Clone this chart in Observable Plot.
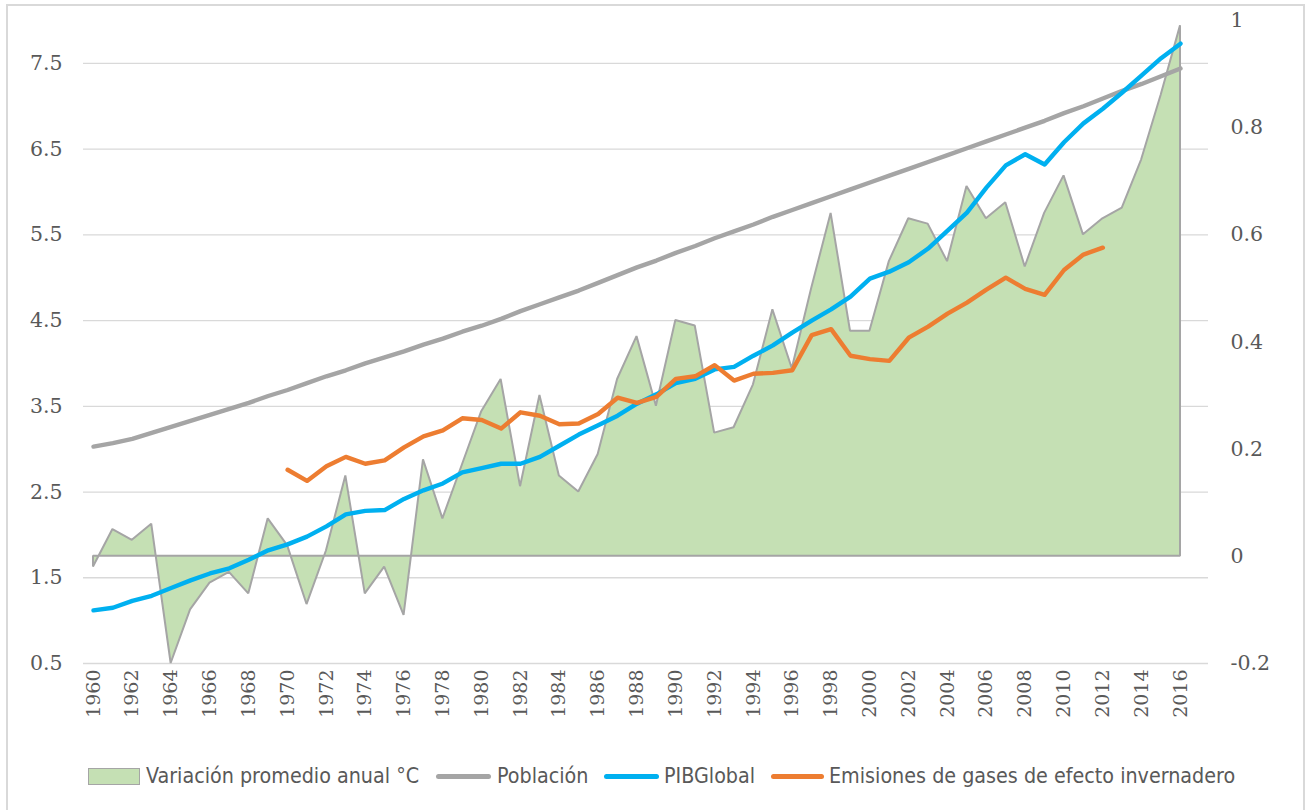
<!DOCTYPE html>
<html>
<head>
<meta charset="utf-8">
<script src="https://cdn.jsdelivr.net/npm/d3@7"></script>
<script src="https://cdn.jsdelivr.net/npm/@observablehq/plot@0.6"></script>
<style>
  html, body { margin: 0; padding: 0; background: #fff; }
  #wrap { position: relative; width: 1313px; height: 810px; overflow: hidden; }
  #frame { position: absolute; left: 6px; top: 4px; width: 1299px; height: 830px; border: 2px solid #d9d9d9; box-sizing: border-box; }
  #chart { position: absolute; left: 0; top: 0; }
  #legend { position: absolute; left: 0; top: 761px; width: 1313px; height: 30px; font-family: "DejaVu Sans Condensed", "DejaVu Sans", sans-serif; font-size: 21.3px; color: #595959; }
  .lg { position: absolute; top: 0; line-height: 30px; white-space: nowrap; }
  .sw { position: absolute; }
</style>
</head>
<body>
<div id="wrap">
  <div id="frame"></div>
  <div id="chart"></div>
  <div id="legend"></div>
</div>
<script>
// ---- data ----
const years = d3.range(1960, 2017);
const tempVariation = [ // right axis, °C
  -0.02, 0.05, 0.03, 0.06, -0.20, -0.10, -0.05, -0.03, -0.07, 0.07,
  0.02, -0.09, 0.01, 0.15, -0.07, -0.02, -0.11, 0.18, 0.07, 0.17,
  0.27, 0.33, 0.13, 0.30, 0.15, 0.12, 0.19, 0.33, 0.41, 0.28,
  0.44, 0.43, 0.23, 0.24, 0.32, 0.46, 0.35, 0.50, 0.64, 0.42,
  0.42, 0.55, 0.63, 0.62, 0.55, 0.69, 0.63, 0.66, 0.54, 0.64,
  0.71, 0.60, 0.63, 0.65, 0.74, 0.86, 0.99
];
const population = [
  3.03, 3.07, 3.12, 3.19, 3.26, 3.33, 3.40, 3.47, 3.54, 3.62,
  3.69, 3.77, 3.85, 3.92, 4.00, 4.07, 4.14, 4.22, 4.29, 4.37,
  4.44, 4.52, 4.61, 4.69, 4.77, 4.85, 4.94, 5.03, 5.12, 5.20,
  5.29, 5.37, 5.46, 5.54, 5.62, 5.71, 5.79, 5.87, 5.95, 6.03,
  6.11, 6.19, 6.27, 6.35, 6.43, 6.51, 6.59, 6.67, 6.75, 6.83,
  6.92, 7.00, 7.09, 7.18, 7.26, 7.35, 7.44
];
const pibGlobal = [
  1.12, 1.15, 1.23, 1.29, 1.38, 1.47, 1.55, 1.61, 1.71, 1.82,
  1.89, 1.98, 2.10, 2.24, 2.28, 2.29, 2.42, 2.52, 2.60, 2.73,
  2.78, 2.83, 2.83, 2.91, 3.04, 3.17, 3.28, 3.39, 3.53, 3.64,
  3.77, 3.82, 3.93, 3.96, 4.09, 4.21, 4.36, 4.50, 4.63, 4.78,
  4.99, 5.07, 5.18, 5.34, 5.55, 5.76, 6.05, 6.31, 6.44, 6.32,
  6.58, 6.80, 6.97, 7.16, 7.36, 7.56, 7.73
];
const emisiones = [
  null, null, null, null, null, null, null, null, null, null,
  2.76, 2.63, 2.80, 2.91, 2.83, 2.87, 3.02, 3.15, 3.22, 3.36,
  3.34, 3.24, 3.43, 3.39, 3.29, 3.30, 3.41, 3.60, 3.54, 3.61,
  3.82, 3.85, 3.98, 3.80, 3.88, 3.89, 3.92, 4.33, 4.40, 4.09,
  4.05, 4.03, 4.30, 4.43, 4.58, 4.71, 4.86, 5.00, 4.87, 4.80,
  5.09, 5.27, 5.35, null, null, null, null
];
const leftTicks = [0.5, 1.5, 2.5, 3.5, 4.5, 5.5, 6.5, 7.5];
const rightTicks = [-0.2, 0, 0.2, 0.4, 0.6, 0.8, 1];
const xTicks = d3.range(1960, 2017, 2);
const legendLabels = ["Variación promedio anual °C", "Población", "PIBGlobal", "Emisiones de gases de efecto invernadero"];

// ---- dual axis mapping: right [-0.2, 1] -> left [0.5, 8] ----
const L0 = 0.5, L1 = 8, R0 = -0.2, R1 = 1;
const toLeft = v => L0 + (v - R0) * (L1 - L0) / (R1 - R0);
const toRight = l => R0 + (l - L0) * (R1 - R0) / (L1 - L0);

const rows = years.map((y, i) => ({
  year: y, temp: tempVariation[i], pop: population[i], gdp: pibGlobal[i], emis: emisiones[i]
}));

const C = { fill: "#c5e0b4", edge: "#a5a5a5", pop: "#a5a5a5", gdp: "#00b0f0", emis: "#ed7d31", grid: "#d9d9d9", text: "#595959" };

const W = 1313, H = 740;
const mL = 83, mR = 105, mT = 20, mB = H - 663;
const pxPerYear = 19.41;
const xDomain = [1960 - 10 / pxPerYear, 2016 + 28 / pxPerYear];

const chart = Plot.plot({
  width: W, height: H,
  marginLeft: mL, marginRight: mR, marginTop: mT, marginBottom: mB,
  style: { fontFamily: "DejaVu Serif, serif", fontSize: "20px", color: C.text, background: "transparent" },
  x: { type: "linear", domain: xDomain },
  y: { type: "linear", domain: [L0, L1 + 1e-9] },
  marks: [
    Plot.gridY(leftTicks, { stroke: C.grid, strokeOpacity: 1, strokeWidth: 1.3 }),
    Plot.areaY(rows, {
      x: "year", y1: toLeft(0), y2: d => toLeft(d.temp),
      fill: C.fill, stroke: C.edge, strokeWidth: 2, strokeLinejoin: "miter"
    }),
    Plot.lineY(rows, { x: "year", y: "pop", stroke: C.pop, strokeWidth: 4.4 }),
    Plot.lineY(rows, { x: "year", y: "gdp", stroke: C.gdp, strokeWidth: 4.4 }),
    Plot.lineY(rows, { x: "year", y: "emis", stroke: C.emis, strokeWidth: 4.4 }),
    Plot.axisY(leftTicks, { anchor: "left", tickSize: 0, tickPadding: 21, tickFormat: d => String(d), fontSize: 20.5 }),
    Plot.axisY(rightTicks.map(toLeft), {
      anchor: "right", tickSize: 0, tickPadding: 22, fontSize: 20.5,
      tickFormat: d => String(+toRight(d).toFixed(1))
    }),
    Plot.axisX(xTicks, { tickSize: 0, tickPadding: 6, tickRotate: -90, tickFormat: d => String(d), fontSize: 19 })
  ]
});
chart.querySelectorAll("[aria-label='y-axis label'], [aria-label='x-axis label']").forEach(n => n.remove());
document.getElementById("chart").appendChild(chart);

// ---- legend ----
const lg = document.getElementById("legend");
const items = [
  { kind: "box", color: C.fill, x0: 88, x1: 140, tx: 146, label: legendLabels[0] },
  { kind: "line", color: C.pop, x0: 436, x1: 491, tx: 497, label: legendLabels[1] },
  { kind: "line", color: C.gdp, x0: 604, x1: 659, tx: 664, label: legendLabels[2] },
  { kind: "line", color: C.emis, x0: 771, x1: 824, tx: 829, label: legendLabels[3] }
];
items.forEach(it => {
  const sw = document.createElement("div");
  sw.className = "sw";
  if (it.kind === "box") {
    Object.assign(sw.style, { left: it.x0 + "px", top: "7px", width: (it.x1 - it.x0) + "px", height: "17px",
      background: it.color, border: "1.5px solid " + C.edge, boxSizing: "border-box" });
  } else {
    Object.assign(sw.style, { left: it.x0 + "px", top: "13px", width: (it.x1 - it.x0) + "px", height: "4.5px",
      background: it.color, borderRadius: "3px" });
  }
  lg.appendChild(sw);
  const t = document.createElement("div");
  t.className = "lg";
  t.style.left = it.tx + "px";
  t.textContent = it.label;
  lg.appendChild(t);
});
</script>
</body>
</html>
